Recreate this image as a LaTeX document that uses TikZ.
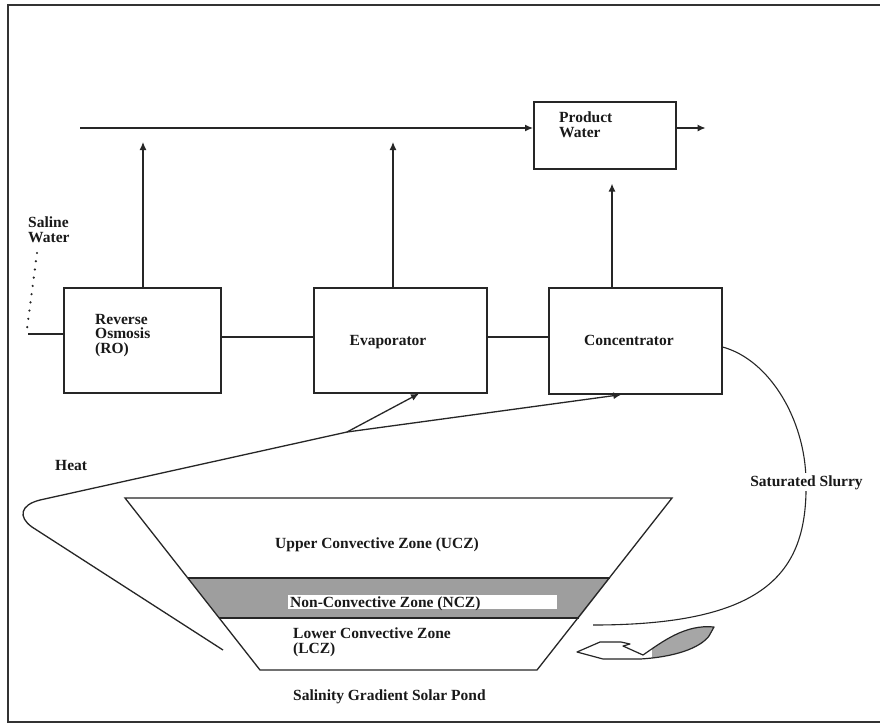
\documentclass[tikz,border=0pt]{standalone}
\usepackage{fontspec}
\setmainfont{Liberation Serif}
\usetikzlibrary{arrows.meta,calc}
\begin{document}
\begin{tikzpicture}[x=1pt,y=-1pt,
  ln/.style={line width=1.3pt, draw=black!85},
  arr/.style={ln,-{Latex[length=8pt,width=7pt]}},
  boxn/.style={draw=black!85,line width=1.6pt, anchor=north west, inner sep=0pt},
  lbl/.style={font=\fontsize{15.5}{14.5}\selectfont\bfseries, inner sep=0pt, align=left, text=black!90}
]
\useasboundingbox (0,0) rectangle (880,724);
\fill[white] (0,0) rectangle (880,724);
% frame
\draw[line width=1.8pt, black!80] (880,5) -- (8,5) -- (8,722) -- (880,722);

% boxes
\node[boxn, minimum width=142pt, minimum height=67pt] (pw) at (533,101) {};
\node[boxn, minimum width=157pt, minimum height=105pt] (ro) at (63,287) {};
\node[boxn, minimum width=173pt, minimum height=105pt] (evap) at (313,287) {};
\node[boxn, minimum width=173pt, minimum height=106pt] (conc) at (548,287) {};

% box texts
\node[lbl, anchor=north west] (pwt) at (559,112) {Product\\Water};
\node[lbl, anchor=north west] (rot) at (95,314) {Reverse\\Osmosis\\(RO)};
\node[lbl, anchor=base] (evt) at (388,345) {Evaporator};
\node[lbl, anchor=base] (cot) at (629,345) {Concentrator};
\node[lbl, anchor=north west] (sw) at (28,217) {Saline\\Water};
\node[lbl, anchor=base west] (heat) at (55,470) {Heat};

% top line and arrows
\coordinate (tl) at (80,128);
\draw[arr] (tl) -- (pw.west |- tl);
\draw[arr] (pw.east |- tl) -- ++(29,0);
\draw[arr] (ro.north -| 143,0) -- (143,142);
\draw[arr] (evap.north -| 393,0) -- (393,142);
\draw[arr, shorten >=14pt] (conc.north -| 612,0) -- (pw.south -| 612,0);

% horizontal process lines
\coordinate (sin) at (28,334);
\draw[ln] (sin) -- (ro.west |- sin);
\draw[ln] (ro.east |- 0,337) -- (evap.west |- 0,337);
\draw[ln] (evap.east |- 0,337) -- (conc.west |- 0,337);
\draw[line width=2.4pt, black!85, line cap=round, dash pattern=on 0pt off 8.3pt] (37,253) -- (27,329);

% heat path
\coordinate (hb) at (347,432);
\draw[ln] (223,650) -- (32,527) .. controls (18,517) and (20,505) .. (40,500) -- (hb);
\draw[arr] (hb) -- ($(conc.south west)!0.42!(conc.south east)$);
\draw[arr] (hb) -- ($(evap.south west)!0.607!(evap.south east)$);

% pond
\fill[black!38] (188,578) -- (610,578) -- (579,618) -- (219,618) -- cycle;
\fill[white] (288,595) rectangle (557,609);
\draw[ln] (125,498) -- (672,498) -- (537,670) -- (260,670) -- cycle;
\draw[ln] (188,578) -- (610,578);
\draw[ln] (219,618) -- (579,618);
\node[lbl, anchor=base west] (ucz) at (275,548) {Upper Convective Zone (UCZ)};
\node[lbl, anchor=base west] (ncz) at (290,607) {Non-Convective Zone (NCZ)};
\node[lbl, anchor=north west] (lcz) at (293,628) {Lower Convective Zone\\(LCZ)};
\node[lbl, anchor=base west] (sgsp) at (293,700) {Salinity Gradient Solar Pond};

% saturated slurry
\draw[ln, line width=1.1pt] (conc.east |- 0,347) .. controls (770,360) and (805,420) .. (806,480)
   .. controls (808,570) and (770,625) .. (593,625);
\node[lbl, anchor=base, fill=white, inner xsep=0pt, inner ysep=2pt] (ss) at (806.5,486) {Saturated Slurry};

% hook arrow back to pond
\begin{scope}
\path[save path=\hookpath] (577,652) -- (600,642) -- (621,642) -- (630,644) -- (623,646) -- (643,655)
   .. controls (662,642) and (685,624) .. (714,627) -- (709,636)
   .. controls (700,648) and (675,657) .. (640,659) -- (603,659) -- cycle;
\fill[white, use path=\hookpath];
\clip (652,600) rectangle (730,680);
\fill[black!35, use path=\hookpath];
\end{scope}
\draw[line width=1.2pt, black!85, line join=round] (577,652) -- (600,642) -- (621,642) -- (630,644) -- (623,646) -- (643,655)
   .. controls (662,642) and (685,624) .. (714,627) -- (709,636)
   .. controls (700,648) and (675,657) .. (640,659) -- (603,659) -- cycle;
\end{tikzpicture}
\end{document}
